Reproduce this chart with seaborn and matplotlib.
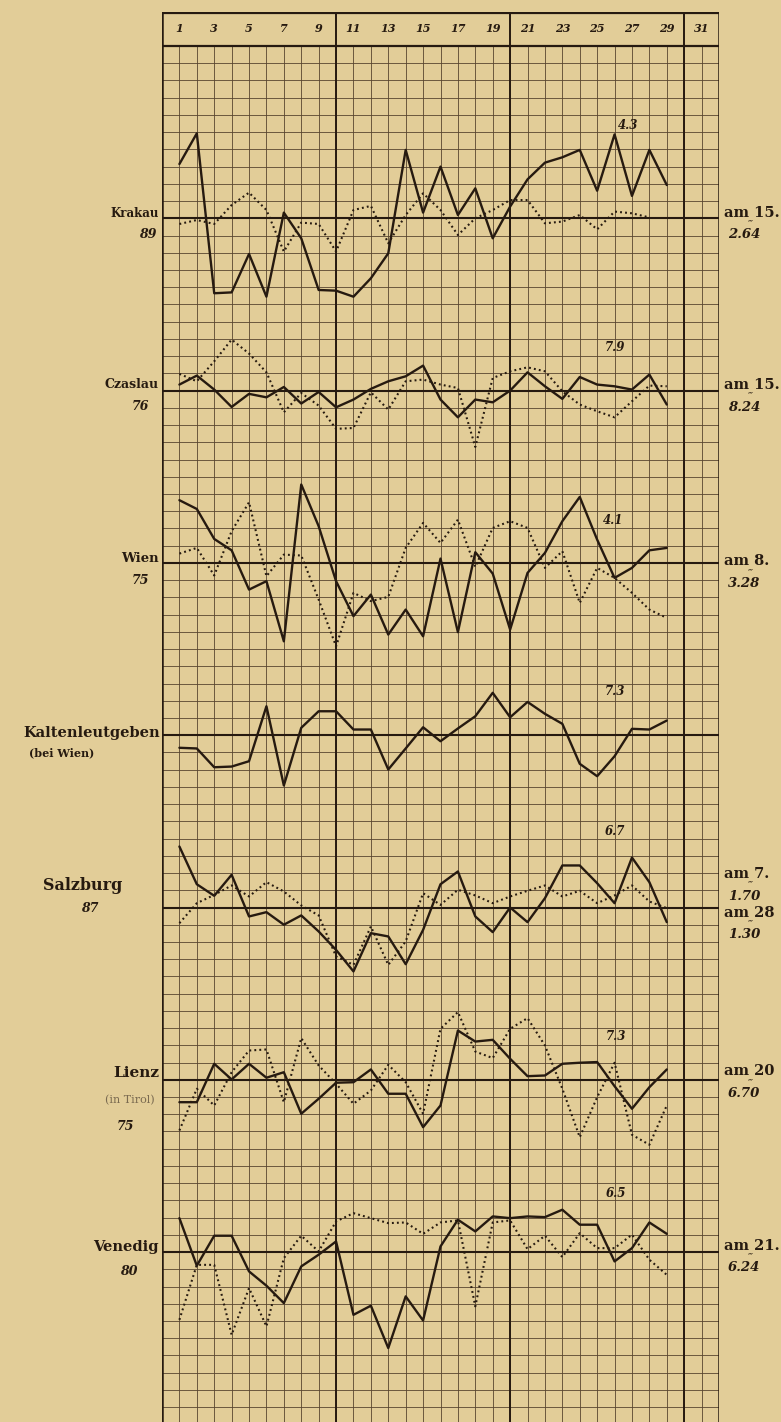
import numpy as np
import matplotlib
matplotlib.use("Agg")
import matplotlib.pyplot as plt
import seaborn as sns

# ---- data (offsets from each station's base line, in grid rows) ----
days = list(range(1, 30))
day_labels = list(range(1, 32, 2))

stations = ["Krakau", "Czaslau", "Wien", "Kaltenleutgeben", "Salzburg", "Lienz", "Venedig"]
station_numbers = ["89", "76", "75", "", "87", "75", "80"]

krakau_solid = [3.15, 4.93, -4.35, -4.3, -2.07, -4.55, 0.33, -1.16, -4.16, -4.2,
                -4.55, -3.48, -2.03, 3.97, 0.33, 3.0, 0.19, 1.74, -1.16, 0.68,
                2.26, 3.23, 3.54, 3.97, 1.6, 4.87, 1.3, 3.97, 1.93]
krakau_dotted = [-0.33, -0.1, -0.33, 0.77, 1.49, 0.48, -1.93, -0.25, -0.33, -1.93,
                 0.48, 0.72, -1.45, 0.19, 1.45, 0.48, -0.97, 0.0, 0.48, 1.06,
                 1.06, -0.29, -0.19, 0.19, -0.64, 0.39, 0.29, 0.05, np.nan]

czaslau_solid = [0.35, 0.87, 0.06, -0.95, -0.19, -0.39, 0.21, -0.75, -0.08, -0.97,
                 -0.52, 0.1, 0.54, 0.83, 1.45, -0.52, -1.55, -0.52, -0.68, 0.0,
                 1.06, 0.25, -0.48, 0.79, 0.35, 0.25, 0.06, 0.93, -0.81]
czaslau_dotted = [0.97, 0.54, 1.7, 2.96, 2.15, 1.06, -1.26, -0.14, -0.87, -2.22,
                  -2.17, -0.1, -1.1, 0.54, 0.64, 0.35, 0.15, -3.27, 0.73, 1.12,
                  1.35, 1.12, -0.04, -0.81, -1.2, -1.55, -0.62, 0.29, 0.25]

wien_solid = [3.64, 3.13, 1.39, 0.73, -1.55, -1.06, -4.55, 4.55, 2.13, -1.06,
              -3.09, -1.84, -4.16, -2.71, -4.26, 0.25, -4.02, 0.62, -0.62, -3.87,
              -0.58, 0.58, 2.42, 3.83, 1.35, -0.87, -0.29, 0.73, 0.87]
wien_dotted = [0.54, 0.87, -0.73, 1.84, 3.52, -0.77, 0.48, 0.43, -2.13, -4.84,
               -1.74, -2.22, -1.97, 0.87, 2.32, 1.16, 2.51, -0.23, 2.03, 2.42,
               2.03, -0.29, 0.68, -2.32, -0.29, -0.87, -1.74, -2.71, -3.19]

kalten_solid = [-0.73, -0.77, -1.86, -1.82, -1.51, 1.68, -2.92, 0.43, 1.39, 1.39,
                0.33, 0.33, -1.99, -0.77, 0.46, -0.35, 0.39, 1.1, 2.46, 1.04,
                1.93, 1.24, 0.66, -1.66, -2.38, -1.22, 0.37, 0.33, 0.85]

salzburg_solid = [3.54, 1.35, 0.68, 1.9, -0.52, -0.27, -1.0, -0.46, -1.39, -2.46,
                  -3.71, -1.49, -1.68, -3.29, -1.3, 1.35, 2.09, -0.52, -1.43, 0.0,
                  -0.85, 0.54, 2.44, 2.44, 1.41, 0.25, 2.9, 1.47, -0.85]
salzburg_dotted = [-0.91, 0.25, 0.73, 1.28, 0.64, 1.47, 0.93, 0.12, -0.46, -2.84,
                   -3.33, -1.1, -3.33, -1.97, 0.83, 0.15, 1.03, 0.7, 0.25, 0.64,
                   0.97, 1.28, 0.64, 0.97, 0.25, 0.7, 1.28, 0.35, -0.04]

lienz_solid = [-1.3, -1.3, 0.93, 0.02, 0.93, 0.12, 0.44, -1.97, -1.1, -0.17,
               -0.14, 0.6, -0.81, -0.81, -2.75, -1.49, 2.86, 2.22, 2.32, 1.22,
               0.21, 0.25, 0.93, 0.99, 1.03, -0.37, -1.68, -0.43, 0.6]
lienz_dotted = [-2.94, -0.52, -1.49, 0.44, 1.7, 1.76, -1.3, 2.42, 0.83, -0.23,
                -1.39, -0.62, 0.87, -0.14, -1.97, 2.96, 3.93, 1.64, 1.26, 2.96,
                3.58, 1.99, -0.52, -3.33, -1.01, 0.99, -3.19, -3.77, -1.49]

venedig_solid = [1.97, -0.79, 0.95, 0.95, -1.12, -1.95, -2.96, -0.83, -0.15, 0.62,
                 -3.64, -3.11, -5.57, -2.57, -3.97, 0.33, 1.88, 1.2, 2.07, 1.97,
                 2.07, 2.03, 2.46, 1.59, 1.59, -0.54, 0.23, 1.72, 1.06]
venedig_dotted = [-3.93, -0.74, -0.74, -4.8, -2.09, -4.31, -0.35, 0.95, 0.04, 1.78,
                  2.26, 1.97, 1.68, 1.72, 1.06, 1.72, 1.84, -3.15, 1.72, 1.84,
                  0.17, 0.95, -0.29, 1.1, 0.23, 0.23, 1.01, -0.44, -1.32]

solid_series = [krakau_solid, czaslau_solid, wien_solid, kalten_solid,
                salzburg_solid, lienz_solid, venedig_solid]
dotted_series = [krakau_dotted, czaslau_dotted, wien_dotted, None,
                 salzburg_dotted, lienz_dotted, venedig_dotted]

max_labels = ["4.3", "7.9", "4.1", "7.3", "6.7", "7.3", "6.5"]
max_label_pos = [(26.8, 5.4), (26.0, 2.5), (25.9, 2.45), (26.0, 2.55),
                 (26.0, 4.4), (26.1, 2.5), (26.1, 3.4)]

# right-hand notes: (date, value) pairs, value written under the date
right_notes = [[("am 15.", "2.64")], [("am 15.", "8.24")], [("am 8.", "3.28")], [],
               [("am 7.", "1.70"), ("am 28", "1.30")], [("am 20", "6.70")],
               [("am 21.", "6.24")]]

# ---- layout ----
PAPER = "#e2cd98"
INK = "#261a10"
GRID = "#58452f"
W, H = 781, 1422
X0, X1 = 162, 719          # pixel x of day 0 and day 32
Y_TOP, Y_HEAD = 11.7, 46   # top frame line and bottom of header row
ROW = 17.23                # px per grid row
BASE0_PX = 218.8           # pixel y of the Krakau base line

sns.set_style("white")
fig = plt.figure(figsize=(W / 100, H / 100), dpi=100, facecolor=PAPER)
ax = fig.add_axes([X0 / W, 0, (X1 - X0) / W, (H - Y_TOP) / H])
ymax = 80 + (Y_HEAD - Y_TOP) / ROW
ymin = 80 - (H - Y_HEAD) / ROW
ax.set_xlim(0, 32)
ax.set_ylim(ymin, ymax)
ax.set_facecolor(PAPER)
ax.axis("off")

baselines = [70 - 10 * i for i in range(len(stations))]

# graph paper
ax.hlines(np.arange(int(np.ceil(ymin)), 80), 0, 32, color=GRID, lw=0.6, zorder=1)
ax.vlines(np.arange(1, 32), ymin, 80, color=GRID, lw=0.6, zorder=1)
ax.hlines(baselines, 0, 32, color=INK, lw=1.5, zorder=2)
ax.vlines([10, 20, 30], ymin, ymax, color=INK, lw=1.4, zorder=2)
ax.vlines([0, 32], ymin, ymax - 0.04, color=INK, lw=1.8, zorder=2)
ax.hlines([80, ymax - 0.06], 0, 32, color=INK, lw=1.6, zorder=2)

for d in day_labels:
    ax.text(d, 80 + (Y_HEAD - Y_TOP) / ROW / 2, str(d), ha="center", va="center",
            fontsize=8, fontstyle="italic", fontweight="bold", family="DejaVu Serif",
            color=INK)

# curves
for base, solid, dotted in zip(baselines, solid_series, dotted_series):
    sns.lineplot(x=days, y=base + np.array(solid), ax=ax, color=INK, lw=1.7,
                 estimator=None, sort=False, legend=False, zorder=4)
    if dotted is not None:
        sns.lineplot(x=days, y=base + np.array(dotted), ax=ax, color=INK, lw=1.5,
                     linestyle=(0, (0.9, 1.5)), estimator=None, sort=False,
                     legend=False, zorder=3)

for base, lab, (dx, dy) in zip(baselines, max_labels, max_label_pos):
    ax.text(dx, base + dy, lab, ha="center", va="center", fontsize=8.5,
            fontstyle="italic", fontweight="bold", family="DejaVu Serif", color=INK)


def put(px, py, s, **kw):
    kw.setdefault("color", INK)
    fig.text(px / W, 1 - py / H, s, family="DejaVu Serif", **kw)


# left station names
left = [
    ("Krakau", -5, 8.5, "89", 16, 148),
    ("Czaslau", -7, 9, "76", 15, 140),
    ("Wien", -5, 9.5, "75", 17, 140),
    ("Kaltenleutgeben", -3, 10.5, None, 0, 0),
    ("Salzburg", -22, 11.5, "87", 0, 90),
    ("Lienz", -7, 11, "75", 46, 125),
    ("Venedig", -6, 10.5, "80", 19, 129),
]
for (name, off, fs, num, noff, nx), base in zip(left, baselines):
    bpx = BASE0_PX + (70 - base) * ROW
    if name == "Salzburg":
        put(83, bpx + off, name, ha="center", va="center", fontsize=fs, fontweight="bold")
    elif name == "Kaltenleutgeben":
        put(160, bpx + off, name, ha="right", va="center", fontsize=fs, fontweight="bold")
        put(62, bpx + 17, "(bei Wien)", ha="center", va="center", fontsize=8, fontweight="bold")
    else:
        put(159, bpx + off, name, ha="right", va="center", fontsize=fs, fontweight="bold")
    if name == "Lienz":
        put(130, bpx + 20, "(in Tirol)", ha="center", va="center", fontsize=8,
            color="#7a6a50")
    if num:
        put(nx, bpx + noff, num, ha="center", va="center", fontsize=9,
            fontstyle="italic", fontweight="bold")

# right notes
right_offsets = [[-6], [-6], [-2], [], [-34, 5], [-9], [-7]]
for notes, offs, base in zip(right_notes, right_offsets, baselines):
    bpx = BASE0_PX + (70 - base) * ROW
    for (date, val), o in zip(notes, offs):
        put(724, bpx + o, date, ha="left", va="center", fontsize=10.5, fontweight="bold")
        put(750, bpx + o + 11, "\u2034", ha="center", va="center", fontsize=7)
        put(728, bpx + o + 22, val, ha="left", va="center", fontsize=9.5,
            fontstyle="italic", fontweight="bold")

fig.savefig("out.png", dpi=100, facecolor=PAPER)
